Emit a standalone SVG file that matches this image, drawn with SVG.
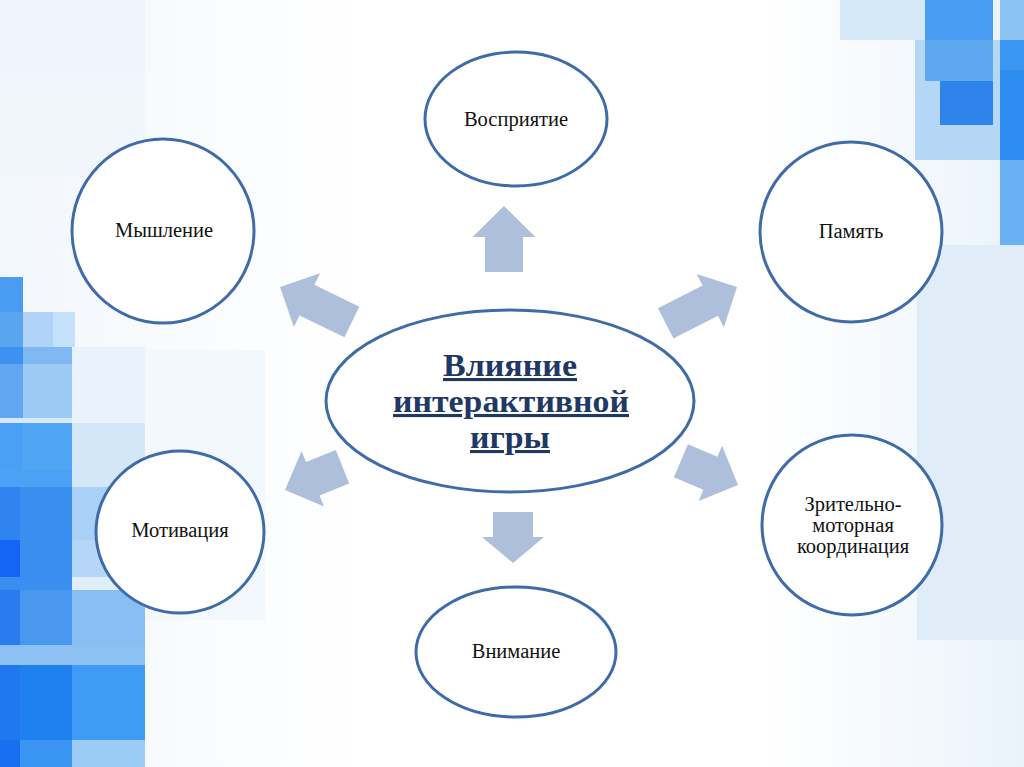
<svg xmlns="http://www.w3.org/2000/svg" width="1024" height="767" viewBox="0 0 1024 767">
<style>
.node{fill:#ffffff;stroke:#3f6ca8;stroke-width:3}
.lbl{font-family:"Liberation Serif","DejaVu Serif",serif;font-size:20.5px;fill:#111;text-anchor:middle}
.main{font-family:"Liberation Serif","DejaVu Serif",serif;font-size:31px;font-weight:bold;fill:#1f3864;text-anchor:middle;text-decoration:underline}
.arr{fill:#aebfdc}
</style>
<defs>
<linearGradient id="bgg" x1="0" y1="0" x2="1" y2="0">
<stop offset="0" stop-color="#f2f7fc"/>
<stop offset="0.35" stop-color="#ffffff"/>
<stop offset="0.75" stop-color="#ffffff"/>
<stop offset="1" stop-color="#eaf3fb"/>
</linearGradient>
</defs>
<g id="background">
<rect width="1024" height="767" fill="url(#bgg)"/>
<rect x="0" y="0" width="145" height="70" fill="#eef5fc"/>
<rect x="0" y="70" width="145" height="106" fill="#f0f6fc"/>
<rect x="145" y="350" width="120" height="270" fill="#f3f8fd"/>
<rect x="0" y="277" width="23" height="35" fill="#4a9cf2"/>
<rect x="0" y="312" width="23" height="35" fill="#5aa5f0"/>
<rect x="23" y="312" width="30" height="35" fill="#b0d4f7"/>
<rect x="53" y="312" width="22" height="35" fill="#c5e0f9"/>
<rect x="0" y="347" width="23" height="17" fill="#3d92ef"/>
<rect x="23" y="347" width="49" height="17" fill="#7fb8f2"/>
<rect x="0" y="364" width="23" height="54" fill="#62a8f1"/>
<rect x="23" y="364" width="49" height="54" fill="#9dcaf5"/>
<rect x="72" y="347" width="73" height="76" fill="#eaf3fb"/>
<rect x="0" y="418" width="72" height="5" fill="#d8eaf9"/>
<rect x="0" y="423" width="23" height="47" fill="#4aa0f5"/>
<rect x="23" y="423" width="49" height="47" fill="#50a5f5"/>
<rect x="72" y="423" width="73" height="64" fill="#d4e7f9"/>
<rect x="0" y="470" width="72" height="17" fill="#4ca2f5"/>
<rect x="0" y="487" width="20" height="53" fill="#2f84f0"/>
<rect x="20" y="487" width="52" height="53" fill="#3a8ef0"/>
<rect x="72" y="487" width="73" height="53" fill="#a9d0f6"/>
<rect x="0" y="540" width="20" height="37" fill="#1464f5"/>
<rect x="20" y="540" width="52" height="50" fill="#3a8ef0"/>
<rect x="72" y="540" width="73" height="37" fill="#b5d7f7"/>
<rect x="0" y="577" width="20" height="13" fill="#3a8ef0"/>
<rect x="72" y="577" width="73" height="13" fill="#e0eefa"/>
<rect x="0" y="590" width="20" height="55" fill="#2a7bee"/>
<rect x="20" y="590" width="52" height="55" fill="#4a97f0"/>
<rect x="72" y="590" width="73" height="55" fill="#88bef3"/>
<rect x="0" y="645" width="145" height="20" fill="#8dc1f3"/>
<rect x="0" y="665" width="20" height="75" fill="#1f78f0"/>
<rect x="20" y="665" width="52" height="75" fill="#1f80f0"/>
<rect x="72" y="665" width="73" height="75" fill="#3e9cf5"/>
<rect x="0" y="740" width="20" height="27" fill="#1a6ff0"/>
<rect x="20" y="740" width="52" height="27" fill="#3a95f3"/>
<rect x="72" y="740" width="73" height="27" fill="#9ccbf5"/>
<rect x="840" y="0" width="85" height="40" fill="#d5e8f8"/>
<rect x="915" y="40" width="85" height="120" fill="#b5d7f6"/>
<rect x="925" y="0" width="68" height="40" fill="#4a9cf2"/>
<rect x="925" y="40" width="68" height="41" fill="#5ea8f0"/>
<rect x="940" y="81" width="53" height="44" fill="#2f84ec"/>
<rect x="1000" y="0" width="24" height="40" fill="#8cc3f5"/>
<rect x="1000" y="40" width="24" height="30" fill="#3c97f3"/>
<rect x="1000" y="70" width="24" height="90" fill="#2d8cf0"/>
<rect x="1000" y="160" width="24" height="85" fill="#6bb0f3"/>
<rect x="917" y="245" width="107" height="395" fill="#e0edf8"/>
</g>
<g id="connectors">
<polygon class="arr" transform="translate(504,206)" points="0,0 31.5,31 19,31 19,66 -19,66 -19,31 -31.5,31"/>
<polygon class="arr" transform="translate(513,563) rotate(180)" points="0,0 31,26 20,26 20,51 -20,51 -20,26 -31,26"/>
<polygon class="arr" transform="translate(280,287) rotate(-64)" points="0,0 30,30 17,30 17,80 -17,80 -17,30 -30,30"/>
<polygon class="arr" transform="translate(737,287) rotate(63)" points="0,0 30,30 17,30 17,80 -17,80 -17,30 -30,30"/>
<polygon class="arr" transform="translate(285,490) rotate(-112)" points="0,0 30,30 18,30 18,62 -18,62 -18,30 -30,30"/>
<polygon class="arr" transform="translate(738,485) rotate(113)" points="0,0 30,30 18,30 18,62 -18,62 -18,30 -30,30"/>
</g>
<g id="center">
<ellipse class="node" cx="510" cy="401" rx="184" ry="91"/>
<text class="main" x="510" y="376" textLength="134" lengthAdjust="spacingAndGlyphs">Влияние</text>
<text class="main" x="511" y="412" textLength="236" lengthAdjust="spacingAndGlyphs">интерактивной</text>
<text class="main" x="510" y="448" textLength="80" lengthAdjust="spacingAndGlyphs">игры</text>
</g>
<g id="vospriyatie">
<ellipse class="node" cx="516" cy="119" rx="91" ry="67"/>
<text class="lbl" x="516" y="126">Восприятие</text>
</g>
<g id="myshlenie">
<ellipse class="node" cx="163" cy="231" rx="91" ry="92"/>
<text class="lbl" x="164" y="237">Мышление</text>
</g>
<g id="pamyat">
<ellipse class="node" cx="851" cy="232" rx="91" ry="90"/>
<text class="lbl" x="851" y="238">Память</text>
</g>
<g id="motivatsiya">
<ellipse class="node" cx="180" cy="532" rx="84" ry="81"/>
<text class="lbl" x="180" y="537">Мотивация</text>
</g>
<g id="koordinatsiya">
<ellipse class="node" cx="852" cy="525" rx="90" ry="90"/>
<text class="lbl" x="853" y="511">Зрительно-</text>
<text class="lbl" x="853" y="532">моторная</text>
<text class="lbl" x="853" y="553">координация</text>
</g>
<g id="vnimanie">
<ellipse class="node" cx="516" cy="652" rx="100" ry="65"/>
<text class="lbl" x="516" y="658">Внимание</text>
</g>
</svg>
